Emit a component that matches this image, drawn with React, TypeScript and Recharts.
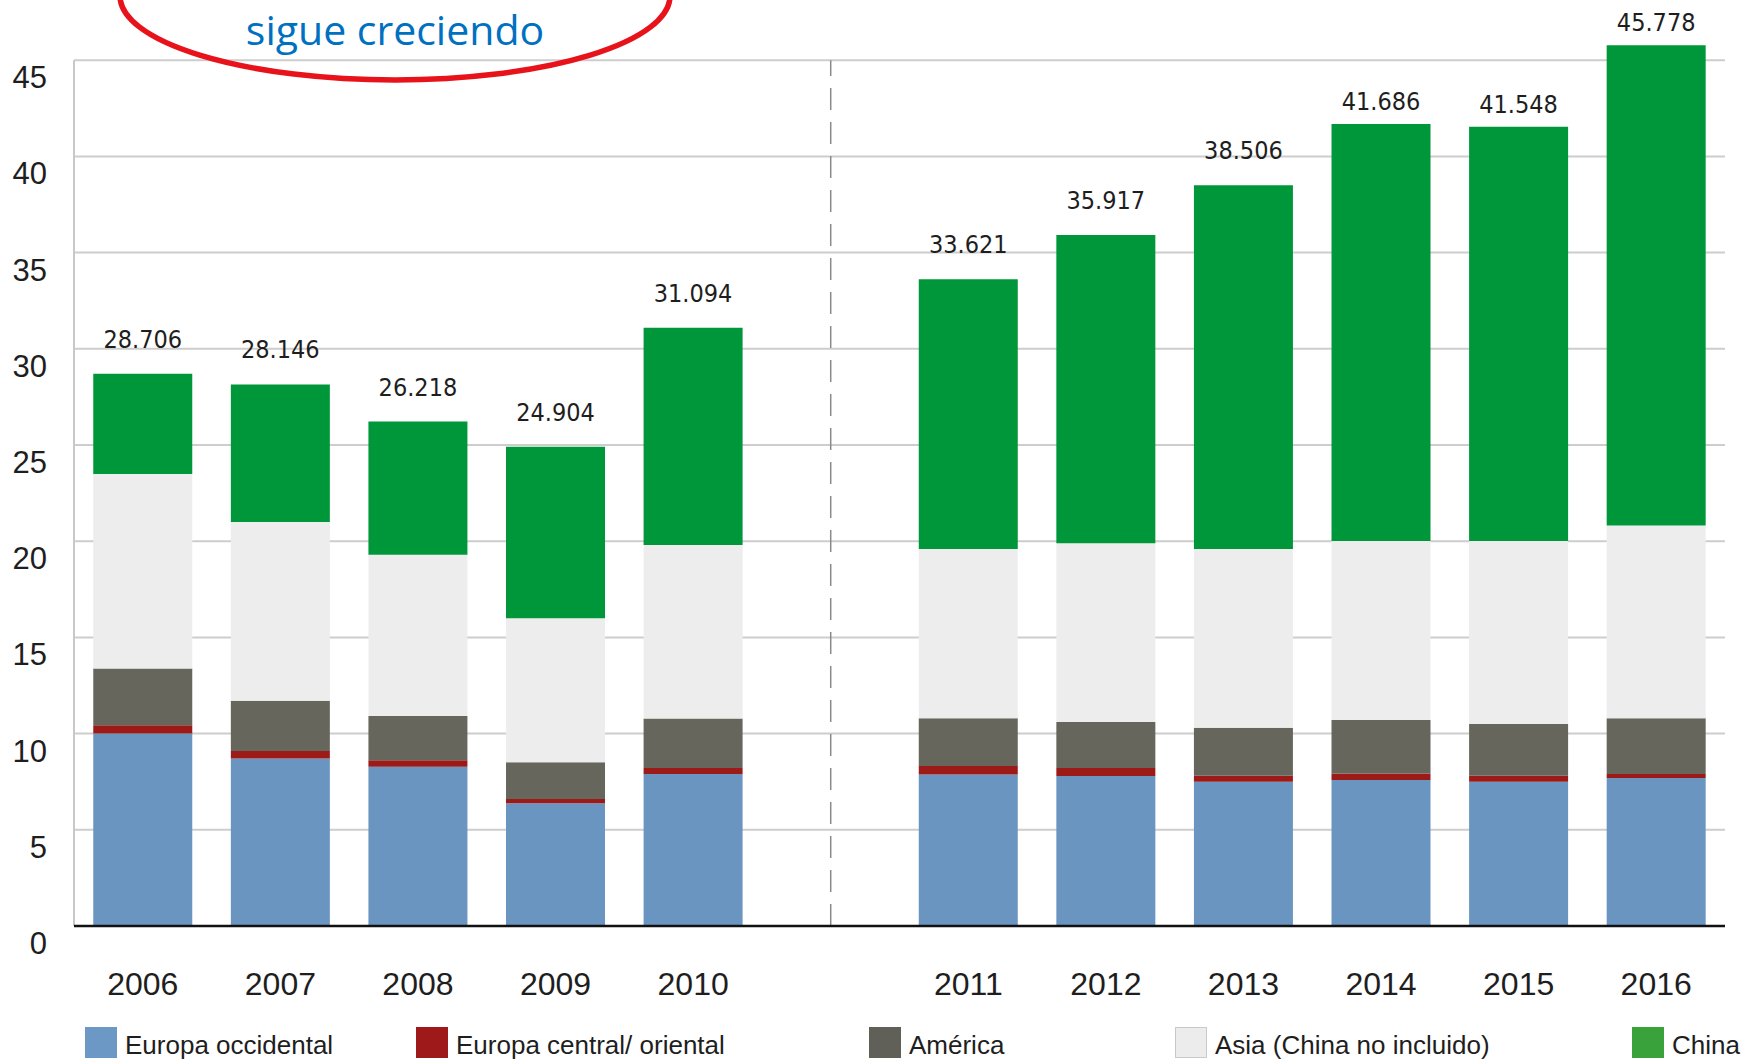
import React from "react";
import {
  BarChart,
  Bar,
  XAxis,
  YAxis,
  CartesianGrid,
  ReferenceLine,
  LabelList,
  Legend,
} from "recharts";

// " " is the empty slot where the dashed separator sits
const years = ["2006", "2007", "2008", "2009", "2010", " ", "2011", "2012", "2013", "2014", "2015", "2016"];

const europaOccidental = [10.0, 8.7, 8.28, 6.38, 7.9, null, 7.88, 7.8, 7.5, 7.59, 7.5, 7.69];
const europaCentral = [0.43, 0.4, 0.33, 0.22, 0.31, null, 0.44, 0.41, 0.31, 0.33, 0.31, 0.21];
const america = [2.96, 2.61, 2.3, 1.91, 2.58, null, 2.48, 2.39, 2.5, 2.79, 2.69, 2.9];
const asia = [10.1, 9.29, 8.39, 7.48, 9.01, null, 8.79, 9.29, 9.28, 9.3, 9.51, 10.01];
const china = [5.216, 7.146, 6.918, 8.914, 11.294, null, 14.031, 16.027, 18.916, 21.676, 21.538, 24.968];

const totals = ["28.706", "28.146", "26.218", "24.904", "31.094", null, "33.621", "35.917", "38.506", "41.686", "41.548", "45.778"];

const yTicks = [0, 5, 10, 15, 20, 25, 30, 35, 40, 45];

const data = years.map((year, i) => ({
  year,
  occ: europaOccidental[i],
  cen: europaCentral[i],
  ame: america[i],
  asia: asia[i],
  china: china[i],
  total: totals[i],
}));

const SERIES = [
  { key: "occ", name: "Europa occidental", color: "#6a95c0", swatch: "#6b98c4", left: 85 },
  { key: "cen", name: "Europa central/ oriental", color: "#9c1a17", swatch: "#9e1a1a", left: 416 },
  { key: "ame", name: "América", color: "#67665c", swatch: "#616058", left: 869 },
  { key: "asia", name: "Asia (China no incluido)", color: "#ededed", swatch: "#ececec", left: 1175 },
  { key: "china", name: "China", color: "#00963a", swatch: "#3aa23a", left: 1632 },
];

const FONT = "'Liberation Sans', Arial, sans-serif";
const NARROW = "'Liberation Sans Narrow', 'DejaVu Sans Condensed', sans-serif";

// total above each stack; the tallest ones sit a little closer to the bar
function TotalLabel(props: any) {
  const { x, y, width, value } = props;
  if (value == null) return null;
  const gap = y < 160 ? 14 : 26;
  return (
    <text
      x={x + width / 2}
      y={y - gap}
      textAnchor="middle"
      fontFamily={NARROW}
      fontSize={25}
      fill="#1e1e1e"
    >
      {value}
    </text>
  );
}

function renderLegend() {
  return (
    <div style={{ position: "relative", width: 1752, height: 38 }}>
      {SERIES.map((s) => (
        <div
          key={s.key}
          style={{
            position: "absolute",
            left: s.left,
            top: 0,
            height: 36,
            display: "flex",
            alignItems: "center",
            whiteSpace: "nowrap",
          }}
        >
          <span
            style={{
              display: "inline-block",
              width: 32,
              height: 31,
              background: s.swatch,
              border: s.key === "asia" ? "1px solid #c9c9c9" : "none",
              boxSizing: "border-box",
              marginRight: 8,
            }}
          />
          <span style={{ fontFamily: FONT, fontSize: 26, color: "#1e1e1e", lineHeight: "36px", paddingTop: 6 }}>
            {s.name}
          </span>
        </div>
      ))}
    </div>
  );
}

export default function App() {
  return (
    <div style={{ position: "absolute", left: 0, top: 0, width: 1752, height: 1060, background: "#fff", overflow: "hidden" }}>
      <BarChart
        width={1752}
        height={1060}
        data={data}
        margin={{ top: 2.5, right: 27, bottom: 74, left: 0 }}
        barCategoryGap="14%"
      >
        <CartesianGrid vertical={false} horizontalValues={yTicks} stroke="#cdcdcd" strokeWidth={2} />
        <XAxis
          dataKey="year"
          height={60}
          tickLine={false}
          tickSize={0}
          tickMargin={46}
          axisLine={{ stroke: "#111", strokeWidth: 2.5 }}
          tick={{ fontFamily: FONT, fontSize: 32, fill: "#1e1e1e" }}
          interval={0}
        />
        <YAxis
          width={74}
          domain={[0, 48]}
          ticks={yTicks}
          tickLine={false}
          tickSize={0}
          tickMargin={27}
          axisLine={false}
          tick={{ fontFamily: FONT, fontSize: 31, fill: "#1e1e1e", dy: 17 }}
        />
        <ReferenceLine
          segment={[{ x: "2006", y: 0 }, { x: "2006", y: 45 }]}
          position="start"
          stroke="#c8c8c8"
          strokeWidth={2}
        />
        <ReferenceLine
          segment={[{ x: " ", y: 0 }, { x: " ", y: 45 }]}
          stroke="#8a8a8a"
          strokeWidth={1.5}
          strokeDasharray="22 12"
        />
        {SERIES.map((s) => (
          <Bar key={s.key} dataKey={s.key} name={s.name} stackId="a" fill={s.color} isAnimationActive={false}>
            {s.key === "china" && <LabelList dataKey="total" content={TotalLabel} />}
          </Bar>
        ))}
        <Legend
          layout="horizontal"
          verticalAlign="middle"
          align="center"
          wrapperStyle={{ top: 1024, left: 0, width: 1752, height: 38 }}
          content={renderLegend}
        />
      </BarChart>
      <svg
        width={1752}
        height={140}
        style={{ position: "absolute", left: 0, top: 0, pointerEvents: "none" }}
      >
        <ellipse cx={395} cy={-4} rx={275} ry={84} fill="none" stroke="#e8121a" strokeWidth={5.5} />
        <text
          x={395}
          y={45}
          textAnchor="middle"
          fontFamily="'Open Sans', 'Noto Sans', sans-serif"
          fontSize={41}
          fill="#0070c0"
        >
          sigue creciendo
        </text>
      </svg>
    </div>
  );
}
